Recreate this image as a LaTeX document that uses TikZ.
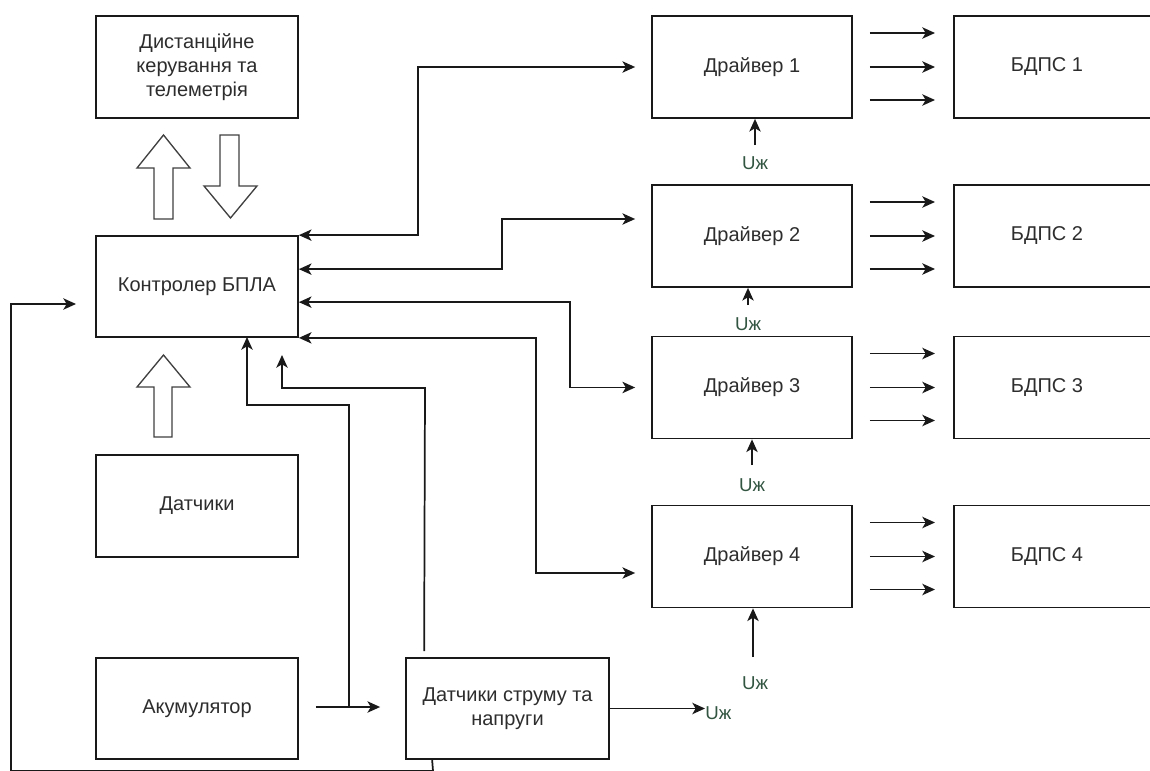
\documentclass[tikz,border=0pt]{standalone}
\usepackage{fontspec}
\setmainfont{Liberation Sans}
\usetikzlibrary{arrows.meta,calc}
\definecolor{uzcol}{RGB}{50,85,65}
\definecolor{linecol}{RGB}{25,25,25}
\definecolor{txtcol}{RGB}{45,45,45}
\begin{document}
\begin{tikzpicture}[x=0.75pt,y=-0.75pt,
  >={Stealth[length=9.5pt,width=8.5pt,inset=2.5pt]},
  blockbox/.style={draw=linecol, line width=1.3pt, rectangle, inner sep=0pt,
    minimum width=151.5pt, minimum height=76.5pt,
    font=\fontsize{15pt}{18pt}\selectfont, align=center, text=txtcol},
  drvbox/.style={blockbox, minimum width=150pt},
  bdbox/.style={blockbox, minimum width=157.5pt, anchor=west},
  lbl/.style={inner sep=0pt, font=\fontsize{15pt}{18pt}\selectfont, text=txtcol},
  arr/.style={draw=linecol, line width=1.3pt, ->},
  biarr/.style={draw=linecol, line width=1.3pt, <->},
  uz/.style={inner sep=0pt, text=uzcol, font=\fontsize{14pt}{16pt}\selectfont},
  blk/.style={draw=black!75, line width=1pt, fill=white, line join=miter}]
\path[use as bounding box, clip] (0,0) rectangle (1150,771);

% left column
\node[blockbox] (dist) at (197,67) {Дистанційне\\керування та\\телеметрія};
\node[blockbox, minimum height=75.75pt] (ctrl) at (197,286.5) {Контролер БПЛА};
\node[blockbox] (sens) at (197,506) {Датчики};
\node[blockbox, minimum height=75.75pt] (acc) at (197,708.5) {Акумулятор};
\node[blockbox, minimum width=152.25pt, minimum height=75.75pt] (cs) at (507.5,708.5) {Датчики струму та\\напруги};

% drivers
\node[drvbox] (drv1) at (752,67) {Драйвер 1};
\node[drvbox] (drv2) at (752,236) {Драйвер 2};
\node[drvbox] (drv3) at (752,387.5) {Драйвер 3};
\node[drvbox] (drv4) at (752,556.5) {Драйвер 4};

% motors
\node[bdbox] (bd1) at (953,67) {};
\node[bdbox] (bd2) at (953,236) {};
\node[bdbox] (bd3) at (953,387.5) {};
\node[bdbox] (bd4) at (953,556.5) {};
\node[lbl] (bd1t) at (1047,67) {БДПС 1};
\node[lbl] (bd2t) at (1047,236) {БДПС 2};
\node[lbl] (bd3t) at (1047,387.5) {БДПС 3};
\node[lbl] (bd4t) at (1047,556.5) {БДПС 4};

% driver -> motor arrows
\foreach \i in {1,2,3,4}{
  \draw[arr] ($(drv\i.east)+(17,-34)$) -- ($(bd\i.west)+(-18,-34)$);
  \draw[arr] ($(drv\i.east)+(17,0)$) -- ($(bd\i.west)+(-18,0)$);
  \draw[arr] ($(drv\i.east)+(17,33)$) -- ($(bd\i.west)+(-18,33)$);
}

% supply labels U
\node[uz] (u1) at (755,163) {Uж};
\node[uz] (u2) at (748,324) {Uж};
\node[uz] (u3) at (752,485) {Uж};
\node[uz] (u4) at (755,683) {Uж};
\coordinate (u1b) at (755,145);
\coordinate (u2b) at (748,305);
\coordinate (u3b) at (752,465);
\coordinate (u4b) at (753,657);
\draw[arr] (u1b) -- (u1b |- drv1.south);
\draw[arr] (u2b) -- (u2b |- drv2.south);
\draw[arr] (u3b) -- (u3b |- drv3.south);
\draw[arr] (u4b) -- (u4b |- drv4.south);

\node[uz, anchor=west] (u5) at (705,713) {Uж};
\draw[arr] (cs.east) -- (cs.east -| u5.west);

% controller <-> drivers
\coordinate (d1in) at ($(drv1.west)+(-16,0)$);
\coordinate (d2in) at ($(drv2.west)+(-16,-17)$);
\coordinate (d3in) at ($(drv3.west)+(-16,0)$);
\coordinate (d4in) at ($(drv4.west)+(-16,16.5)$);
\draw[biarr] (ctrl.north east) -- ++(119,0) |- (d1in);
\draw[biarr] ($(ctrl.north east)+(0,34)$) -- ++(203,0) |- (d2in);
\draw[biarr] ($(ctrl.north east)+(0,67)$) -- ++(271,0) |- (d3in);
\draw[biarr] (ctrl.south east) -- ++(237,0) |- (d4in);

% accumulator -> current sensors, branch to controller
\coordinate (accout) at ($(acc.east)+(17,-1.5)$);
\coordinate (csin) at ($(cs.west)+(-25,-1.5)$);
\draw[arr] (accout) -- (csin);
\coordinate (br) at (349,707);
\coordinate (ctrlin1) at (247,337);
\draw[arr] (br) -- (349,405) -- (247,405) -- (ctrlin1);

% current sensors -> controller
\coordinate (csout) at ($(cs.north west)+(19,-6)$);
\coordinate (ctrlin2) at (282,355);
\draw[arr] (csout) -- (425,388) -- (282,388) -- (ctrlin2);

% loop to controller left side
\coordinate (loopin) at (76,304);
\draw[arr] ($(cs.south west)+(27,0)$) -- (433,771) -- (11,771) -- (11,304) -- (loopin);

% hollow block arrows
\draw[blk] (163.5,135) -- (190,168) -- (173,168) -- (173,219) -- (154,219) -- (154,168) -- (137,168) -- cycle;
\draw[blk] (220,135) -- (239,135) -- (239,186) -- (257,186) -- (230.5,218) -- (204,186) -- (220,186) -- cycle;
\draw[blk] (163.5,355) -- (190,387) -- (172,387) -- (172,437) -- (154,437) -- (154,387) -- (137,387) -- cycle;
\end{tikzpicture}
\end{document}
